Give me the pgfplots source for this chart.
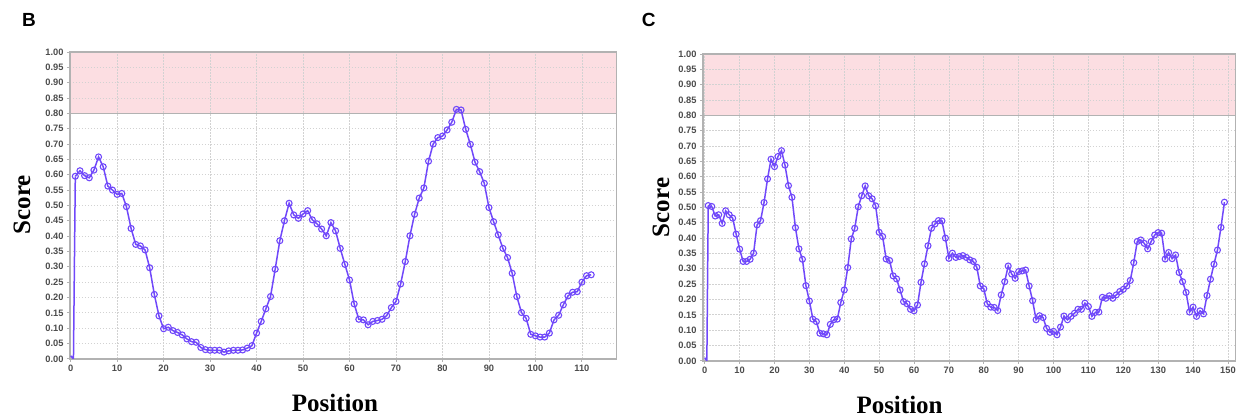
\documentclass[border=0pt]{standalone}
\usepackage{pgfplots}
\pgfplotsset{compat=1.18}
\usepackage{fontspec}
\setmainfont{Liberation Serif}
\newfontfamily\sansf{Liberation Sans}

\definecolor{seqline}{RGB}{112,72,250}
\definecolor{bandpink}{RGB}{252,222,226}
\definecolor{tickgray}{RGB}{75,75,75}

\pgfplotsset{
  panel/.style={
    scale only axis,
    height=307pt,
    ymin=0, ymax=1,
    ytick={0,0.05,0.1,0.15,0.2,0.25,0.3,0.35,0.4,0.45,0.5,0.55,0.6,0.65,0.7,0.75,0.8,0.85,0.9,0.95,1},
    xtick distance=10,
    grid=major,
    major grid style={gray!35, line width=0.7pt, dash pattern=on 1.5pt off 1.5pt},
    axis line style={gray!60, line width=1.3pt},
    tick pos=left,
    tick align=outside,
    major tick length=3pt,
    tick style={gray!60, line width=0.8pt},
    ticklabel style={font=\sansf\bfseries\fontsize{9.3}{10}\selectfont, text=tickgray},
    /pgf/number format/assume math mode=true,
    yticklabel style={/pgf/number format/.cd, fixed, fixed zerofill, precision=2},
    xticklabel style={/pgf/number format/.cd, fixed, precision=0},
    label style={font=\fontsize{25}{27}\selectfont\bfseries},
    set layers,
  },
  seq/.style={seqline, line width=1.5pt, mark=o, mark size=3pt,
    mark options={fill=white, line width=1.1pt, solid}},
}

\begin{document}
\begin{tikzpicture}
\path (0pt,0pt) rectangle (1239pt,-415pt);

% ---------- panel B ----------
\begin{axis}[panel,
  at={(70pt,-359pt)}, anchor=south west,
  width=547pt,
  xmin=-0.15, xmax=117.5,
  xlabel={Position}, ylabel={Score},
  xlabel style={at={(axis description cs:0.4845,-0.143)}, anchor=center},
  ylabel style={at={(axis description cs:-0.088,0.502)}, anchor=center},
]
\begin{pgfonlayer}{axis background}
\fill[bandpink] (axis cs:-0.15,0.8) rectangle (axis cs:117.5,1);
\end{pgfonlayer}
\addplot[gray!60, line width=0.8pt] coordinates {(-0.15,0.8) (117.5,0.8)};
\addplot[seqline, line width=1.5pt] coordinates {(0,0.01) (0.6,0.0) (1,0.595)};
\addplot[seq] coordinates {
(1,0.595)(2,0.613)(3,0.597)(4,0.59)(5,0.615)(6,0.658)(7,0.626)(8,0.563)(9,0.55)(10,0.536)
(11,0.539)(12,0.496)(13,0.425)(14,0.373)(15,0.368)(16,0.355)(17,0.297)(18,0.21)(19,0.14)(20,0.098)
(21,0.103)(22,0.092)(23,0.086)(24,0.078)(25,0.065)(26,0.056)(27,0.054)(28,0.037)(29,0.03)(30,0.028)
(31,0.028)(32,0.028)(33,0.022)(34,0.026)(35,0.028)(36,0.028)(37,0.029)(38,0.035)(39,0.043)(40,0.084)
(41,0.122)(42,0.163)(43,0.203)(44,0.292)(45,0.385)(46,0.45)(47,0.507)(48,0.469)(49,0.458)(50,0.472)
(51,0.483)(52,0.453)(53,0.44)(54,0.423)(55,0.401)(56,0.444)(57,0.417)(58,0.36)(59,0.308)(60,0.257)
(61,0.179)(62,0.129)(63,0.127)(64,0.111)(65,0.122)(66,0.125)(67,0.129)(68,0.141)(69,0.167)(70,0.187)
(71,0.244)(72,0.317)(73,0.401)(74,0.471)(75,0.524)(76,0.557)(77,0.644)(78,0.7)(79,0.721)(80,0.726)
(81,0.746)(82,0.771)(83,0.813)(84,0.811)(85,0.748)(86,0.699)(87,0.641)(88,0.61)(89,0.572)(90,0.493)
(91,0.447)(92,0.404)(93,0.36)(94,0.33)(95,0.279)(96,0.203)(97,0.151)(98,0.132)(99,0.08)(100,0.075)
(101,0.071)(102,0.071)(103,0.084)(104,0.127)(105,0.142)(106,0.176)(107,0.205)(108,0.217)(109,0.219)(110,0.25)
(111,0.271)(112,0.274)
};
\end{axis}

% ---------- panel C ----------
\begin{axis}[panel,
  at={(703.3pt,-361pt)}, anchor=south west,
  width=532.8pt,
  xmin=-0.5, xmax=152.2,
  xlabel={Position}, ylabel={Score},
  xlabel style={at={(axis description cs:0.369,-0.143)}, anchor=center},
  ylabel style={at={(axis description cs:-0.079,0.5)}, anchor=center},
]
\begin{pgfonlayer}{axis background}
\fill[bandpink] (axis cs:-0.5,0.8) rectangle (axis cs:152.2,1);
\end{pgfonlayer}
\addplot[gray!60, line width=0.8pt] coordinates {(-0.5,0.8) (152.2,0.8)};
\addplot[seqline, line width=1.5pt] coordinates {(0,0.01) (0.6,0.0) (1,0.506)};
\addplot[seq] coordinates {
(1,0.506)(2,0.503)(3,0.472)(4,0.476)(5,0.448)(6,0.489)(7,0.476)(8,0.465)(9,0.413)(10,0.364)
(11,0.324)(12,0.324)(13,0.331)(14,0.351)(15,0.443)(16,0.457)(17,0.516)(18,0.593)(19,0.657)(20,0.633)
(21,0.666)(22,0.685)(23,0.638)(24,0.571)(25,0.533)(26,0.434)(27,0.365)(28,0.331)(29,0.245)(30,0.195)
(31,0.136)(32,0.128)(33,0.09)(34,0.088)(35,0.085)(36,0.119)(37,0.134)(38,0.136)(39,0.19)(40,0.231)
(41,0.304)(42,0.397)(43,0.432)(44,0.502)(45,0.538)(46,0.57)(47,0.538)(48,0.528)(49,0.505)(50,0.419)
(51,0.405)(52,0.332)(53,0.327)(54,0.277)(55,0.267)(56,0.231)(57,0.193)(58,0.186)(59,0.168)(60,0.163)
(61,0.182)(62,0.256)(63,0.316)(64,0.375)(65,0.432)(66,0.446)(67,0.457)(68,0.456)(69,0.4)(70,0.334)
(71,0.351)(72,0.337)(73,0.34)(74,0.343)(75,0.337)(76,0.329)(77,0.324)(78,0.305)(79,0.244)(80,0.235)
(81,0.186)(82,0.175)(83,0.174)(84,0.164)(85,0.215)(86,0.258)(87,0.309)(88,0.283)(89,0.269)(90,0.291)
(91,0.293)(92,0.296)(93,0.244)(94,0.196)(95,0.134)(96,0.147)(97,0.141)(98,0.106)(99,0.093)(100,0.096)
(101,0.085)(102,0.11)(103,0.146)(104,0.134)(105,0.145)(106,0.155)(107,0.168)(108,0.168)(109,0.188)(110,0.177)
(111,0.145)(112,0.158)(113,0.159)(114,0.207)(115,0.204)(116,0.212)(117,0.204)(118,0.215)(119,0.226)(120,0.233)
(121,0.244)(122,0.262)(123,0.32)(124,0.389)(125,0.394)(126,0.383)(127,0.365)(128,0.389)(129,0.41)(130,0.418)
(131,0.416)(132,0.332)(133,0.353)(134,0.333)(135,0.345)(136,0.288)(137,0.258)(138,0.223)(139,0.159)(140,0.175)
(141,0.145)(142,0.163)(143,0.153)(144,0.213)(145,0.266)(146,0.315)(147,0.361)(148,0.435)(149,0.517)
};
\end{axis}

\node[font=\sansf\bfseries\fontsize{19}{20}\selectfont] at (29pt,-20pt) {B};
\node[font=\sansf\bfseries\fontsize{19}{20}\selectfont] at (649pt,-20pt) {C};
\end{tikzpicture}
\end{document}
